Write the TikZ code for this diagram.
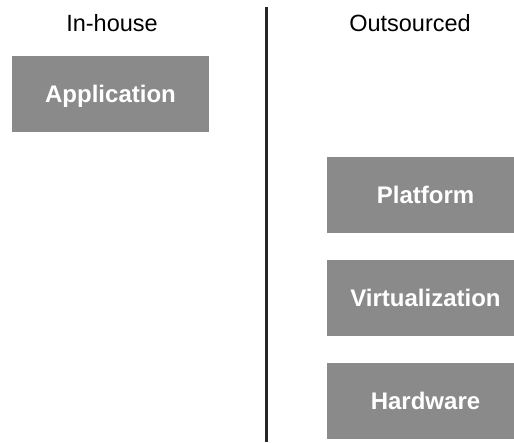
\documentclass[tikz,border=0pt]{standalone}
\usepackage{fontspec}
\setmainfont{Liberation Sans}
\usepackage{xcolor}
\definecolor{layergray}{HTML}{8A8A8A}

\begin{document}
\begin{tikzpicture}[x=1pt, y=-1pt,
    layer/.style={fill=layergray, text=white, inner sep=0pt,
        minimum width=197pt, minimum height=76pt, text depth=0pt,
        font=\fontsize{24}{24}\selectfont\bfseries},
    head/.style={font=\fontsize{23.5}{23.5}\selectfont}]
    \useasboundingbox (0,0) rectangle (514,442);

    % Headings
    \node[head] (inhouse) at (112, 23) {In-house};
    \node[head] (outsourced) at (410, 23) {Outsourced};

    % Divider
    \coordinate (top) at (266.5, 7);
    \coordinate (bottom) at (266.5, 442);
    \draw[line width=3pt, black!85] (top) -- (bottom);

    % Layers
    \node[layer] (app) at (110.5, 94) {Application};
    \node[layer] (platform) at (425.5, 195) {Platform};
    \node[layer] (virt) at (425.5, 298) {Virtualization};
    \node[layer] (hw) at (425.5, 401) {Hardware};
\end{tikzpicture}
\end{document}
